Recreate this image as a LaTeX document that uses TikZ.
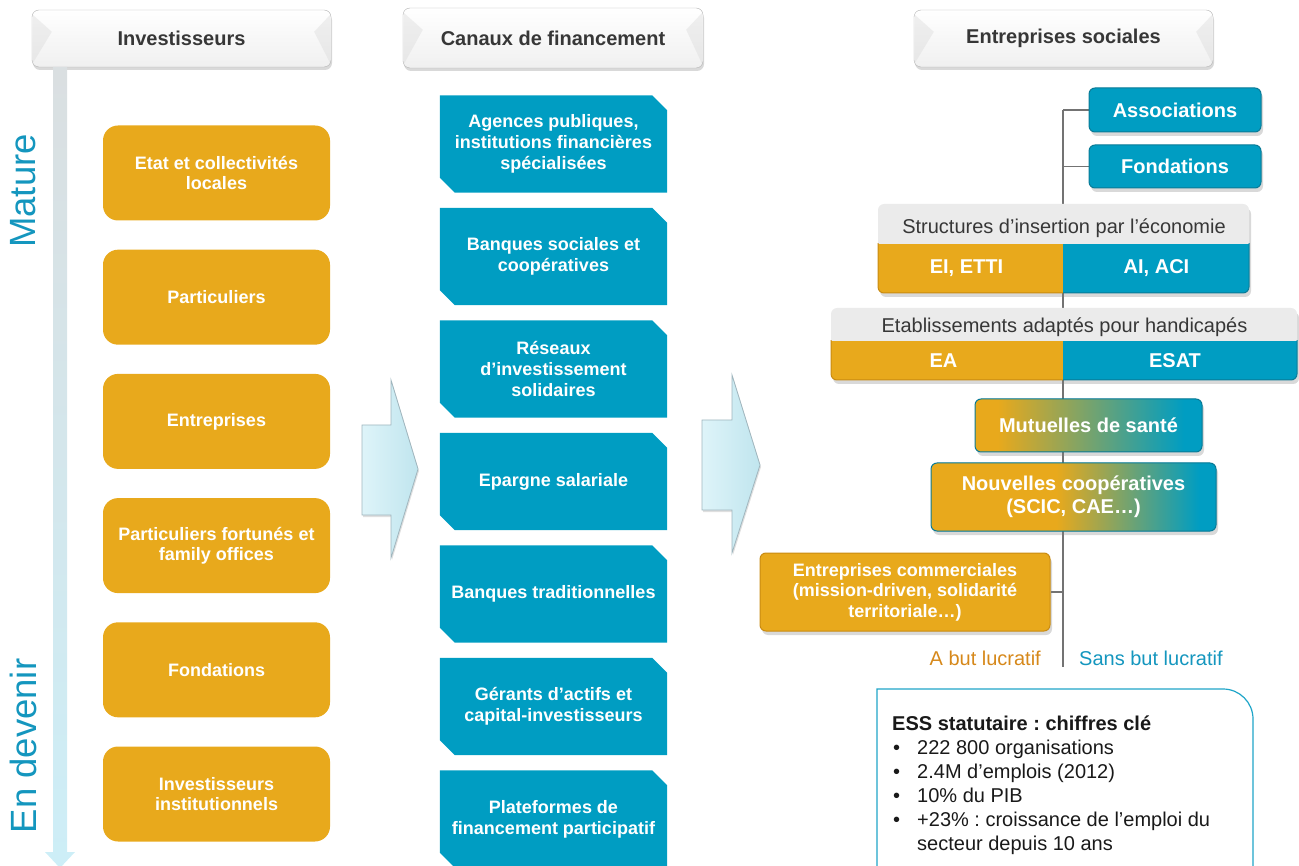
\documentclass[tikz,border=0pt]{standalone}
\usepackage{fontspec}
\setmainfont{Liberation Sans}
\usetikzlibrary{positioning,calc,shadows}
\frenchspacing

\definecolor{essorange}{RGB}{232,169,28}
\definecolor{essorangedark}{RGB}{201,139,18}
\definecolor{essblue}{RGB}{0,157,194}
\definecolor{essbluedark}{RGB}{10,122,150}
\definecolor{labelblue}{RGB}{20,150,190}
\definecolor{labelorange}{RGB}{214,136,26}
\definecolor{headtext}{RGB}{55,55,55}
\definecolor{headgray}{RGB}{235,235,235}
\definecolor{axistop}{RGB}{218,223,225}
\definecolor{axisbottom}{RGB}{205,238,247}
\definecolor{arrowlight}{RGB}{222,244,249}
\definecolor{arrowdark}{RGB}{192,229,238}
\definecolor{arrowedge}{RGB}{160,182,190}
\definecolor{statframe}{RGB}{30,165,200}

\pgfdeclarehorizontalshading{orablu}{100bp}{color(0bp)=(essorange); color(47bp)=(essorange); color(72bp)=(essblue); color(100bp)=(essblue)}
\pgfdeclarehorizontalshading{orablushort}{100bp}{color(0bp)=(essorange); color(30bp)=(essorange); color(71bp)=(essblue); color(100bp)=(essblue)}

\pgfdeclarelayer{background}
\pgfsetlayers{background,main}

\begin{document}
\begin{tikzpicture}[x=1pt,y=-1pt,
	every node/.style={inner sep=0pt},
	header/.style={draw=gray!60, rounded corners=7pt, top color=white, bottom color=gray!12,
		minimum width=299pt, minimum height=57pt, text=headtext, font=\fontsize{20}{24}\selectfont\bfseries,
		drop shadow={shadow xshift=1pt, shadow yshift=-3pt, opacity=.3}},
	invbox/.style={fill=essorange, rounded corners=15pt, minimum width=227pt, minimum height=95pt,
		text=white, align=center, font=\fontsize{18}{20.5}\selectfont\bfseries},
	canal/.style={minimum width=227pt, minimum height=97pt,
		text=white, align=center, font=\fontsize{18}{21}\selectfont\bfseries},
	bigarrow/.style={draw=arrowedge, line width=.8pt, left color=arrowlight, right color=arrowdark,
		drop shadow={shadow xshift=1pt, shadow yshift=-2pt, opacity=.25}},
	rbox/.style={rounded corners=6pt, draw=essbluedark, line width=1pt, fill=essblue, text=white,
		align=center, font=\fontsize{20}{23}\selectfont\bfseries,
		drop shadow={shadow xshift=2pt, shadow yshift=-4pt, opacity=.3}},
	rboxo/.style={rbox, fill=essorange, draw=essorangedark},
	rboxg/.style={rbox, shade, shading=orablu},
	boxtext/.style={text=white, font=\fontsize{20}{23}\selectfont\bfseries},
	graytext/.style={text=headtext, font=\fontsize{20}{23}\selectfont},
	treeline/.style={draw=gray!90!black, line width=1.3pt}]

	\useasboundingbox (0,0) rectangle (1299,866);

	% headers
	\node[header] (hinv) at (181.5,38.5) {Investisseurs};
	\node[header, minimum width=300pt, minimum height=60pt] (hcan) at (553,38) {Canaux de financement};
	\node[header] (hent) at (1063.5,38.5) {Entreprises sociales};
	\foreach \h in {hinv,hcan,hent} {
		\fill[gray!30, opacity=.4] ($(\h.north west)+(1,5)$) -- ($(\h.north west)+(20,22)$) -- ($(\h.south west)+(1,-4)$) -- cycle;
		\fill[gray!30, opacity=.4] ($(\h.north east)+(-1,5)$) -- ($(\h.north east)+(-17,22)$) -- ($(\h.south east)+(-1,-4)$) -- cycle;
	}

	% axe mature / en devenir
	\shade[top color=axistop, bottom color=axisbottom] (53,67) -- (67,67) -- (67,852) -- (75,852) -- (60,868) -- (45,852) -- (53,852) -- cycle;
	\node[rotate=90, text=labelblue, font=\fontsize{36.5}{40}\selectfont] (mature) at (23,191) {Mature};
	\node[rotate=90, text=labelblue, font=\fontsize{36.5}{40}\selectfont] (devenir) at (23,746) {En devenir};

	% investisseurs
	\foreach \i/\txt in {1/{Etat et collectivités\\locales},2/Particuliers,3/Entreprises,
		4/{Particuliers fortunés et\\family offices},5/Fondations,6/{Investisseurs\\institutionnels}}
		\node[invbox] (inv\i) at (216.5,{173+124.2*(\i-1)}) {\txt};

	% canaux
	\foreach \i/\txt in {1/{Agences publiques,\\institutions financières\\spécialisées},2/{Banques sociales et\\coopératives},
		3/{Réseaux\\d’investissement\\solidaires},4/Epargne salariale,5/Banques traditionnelles,
		6/{Gérants d’actifs et\\capital-investisseurs},7/{Plateformes de\\financement participatif}} {
		\node[canal] (can\i) at (553.5,{144+112.5*(\i-1)}) {\txt};
		\begin{pgfonlayer}{background}
			\fill[essblue] (can\i.north west) -- ($(can\i.north east)+(-15,0)$) -- ($(can\i.north east)+(0,15)$)
				-- (can\i.south east) -- ($(can\i.south west)+(15,0)$) -- ($(can\i.south west)+(0,-15)$) -- cycle;
		\end{pgfonlayer}
	}

	% fleches
	\draw[bigarrow] (362,425) -- (391,425) -- (391,380) -- (418,469) -- (391,558) -- (391,515) -- (362,515) -- cycle;
	\draw[bigarrow] (702,420) -- (732,420) -- (732,375) -- (760,465) -- (732,553) -- (732,510) -- (702,510) -- cycle;

	% entreprises sociales
	\node[rbox, minimum width=172pt, minimum height=44pt] (assoc) at (1175,110) {Associations};
	\node[rbox, minimum width=172pt, minimum height=43pt] (fond) at (1175,166.5) {Fondations};

	\foreach \xa/\ya/\ym/\xs/\xb/\yb in {878/204/244/1063/1249/293,831/308/341/1063/1297/380} {
		\fill[headgray, rounded corners=6pt, drop shadow={shadow xshift=2pt, shadow yshift=-4pt, opacity=.3}] (\xa,\ya) rectangle (\xb,\yb);
		\begin{scope}
			\clip[rounded corners=6pt] (\xa,\ya) rectangle (\xb,\yb);
			\fill[essorange] (\xa,\ym) rectangle (\xs,\yb);
			\fill[essblue] (\xs,\ym) rectangle (\xb,\yb);
		\end{scope}
		\begin{scope}
			\clip (\xa-5,\ym) rectangle (\xs,\yb+5);
			\draw[essorangedark, line width=1pt, rounded corners=6pt] (\xa,\ya) rectangle (\xb,\yb);
		\end{scope}
		\begin{scope}
			\clip (\xs,\ym) rectangle (\xb+5,\yb+5);
			\draw[essbluedark, line width=1pt, rounded corners=6pt] (\xa,\ya) rectangle (\xb,\yb);
		\end{scope}
	}
	\node[graytext, anchor=base] (sie) at (1064,234) {Structures d’insertion par l’économie};
	\node[boxtext] (eietti) at (966.5,268.5) {EI, ETTI};
	\node[boxtext] (aiaci) at (1156.5,268.5) {AI, ACI};
	\node[graytext, anchor=base] (eah) at (1064.5,333) {Etablissements adaptés pour handicapés};
	\node[boxtext] (ea) at (943.5,361) {EA};
	\node[boxtext] (esat) at (1175,361) {ESAT};

	\node[rboxg, shading=orablushort, minimum width=227pt, minimum height=53pt] (mutuelles) at (1088.5,425.5) {Mutuelles de santé};
	\node[rboxg, minimum width=285pt, minimum height=68pt] (nouvcoop) at (1073.5,497) {Nouvelles coopératives\\(SCIC, CAE…)};
	\node[rboxo, minimum width=290pt, minimum height=78pt, font=\fontsize{18}{20.5}\selectfont\bfseries] (entcom) at (905,592)
		{Entreprises commerciales\\(mission-driven, solidarité\\territoriale…)};

	\begin{pgfonlayer}{background}
		\coordinate (ltop) at (1063,110);
		\coordinate (lbot) at (1063,667);
		\draw[treeline] (ltop) -- (lbot);
		\draw[treeline] (assoc.west) -- (assoc.west -| ltop);
		\draw[treeline] (fond.west) -- (fond.west -| ltop);
		\draw[treeline] (entcom.east) -- (entcom.east -| ltop);
	\end{pgfonlayer}

	\node[anchor=base east, text=labelorange, font=\fontsize{20}{23}\selectfont] (lucratif) at (1041,665) {A but lucratif};
	\node[anchor=base west, text=labelblue, font=\fontsize{20}{23}\selectfont] (nonlucratif) at (1079,665) {Sans but lucratif};

	% chiffres cles
	\draw[statframe, line width=1.2pt] (877,880) -- (877,689) -- (1223,689) .. controls (1239.6,689) and (1253,702.4) .. (1253,719) -- (1253,880);
	\node[anchor=north west, text=black!90, font=\fontsize{20}{24}\selectfont] (stats) at (892,713) {%
		\begin{tabular}{@{\hspace{1pt}}l@{\hspace{17pt}}l@{}}
			\multicolumn{2}{@{}l@{}}{\bfseries ESS statutaire : chiffres clé}\\
			\textbullet & 222 800 organisations\\
			\textbullet & 2.4M d’emplois (2012)\\
			\textbullet & 10\% du PIB\\
			\textbullet & +23\% : croissance de l’emploi du\\
			& secteur depuis 10 ans
		\end{tabular}};
\end{tikzpicture}
\end{document}
